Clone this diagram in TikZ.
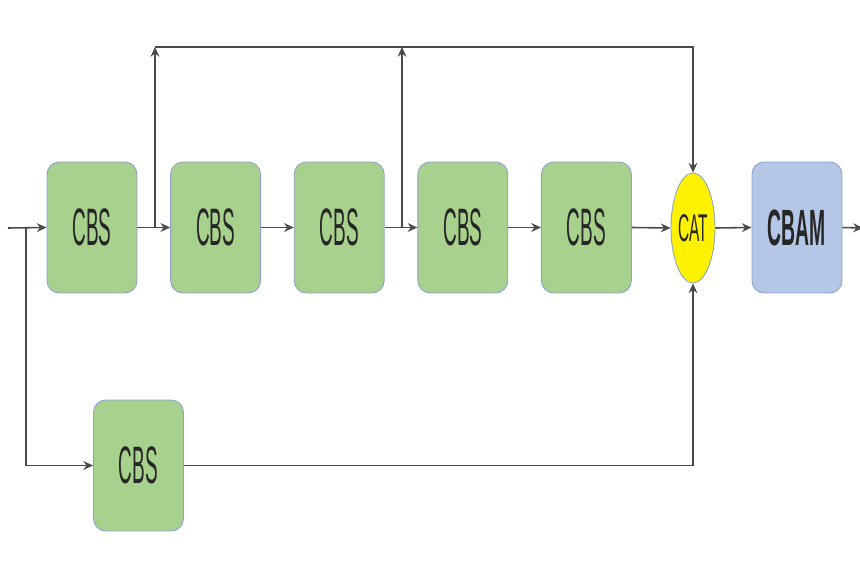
\documentclass[tikz,border=0pt]{standalone}
\usepackage{fontspec}
\setmainfont{Liberation Sans}
\usepackage{graphicx}
\usetikzlibrary{arrows.meta, shapes.geometric, positioning}
\definecolor{cbsGreen}{HTML}{A9D18E}
\definecolor{cbamBlue}{HTML}{B4C7E7}
\definecolor{boxEdge}{HTML}{8EA2C8}
\definecolor{lineGray}{HTML}{4A4A4A}
\newcommand{\narrowtxt}[2]{\scalebox{#1}[1]{#2}}

\begin{document}
\begin{tikzpicture}[x=0.02cm, y=-0.02cm, node distance=0.655cm,
  every node/.style={text=black!85},
  arr/.style={-{Stealth[length=5.5pt, width=5pt]}, line width=0.9pt, draw=lineGray},
  cbsbox/.style={draw=boxEdge, line width=0.5pt, fill=cbsGreen, rounded corners=7pt,
                 minimum width=1.8cm, minimum height=2.62cm, inner sep=0pt,
                 font=\fontsize{30}{32}\selectfont},
  cbambox/.style={cbsbox, fill=cbamBlue, font=\fontsize{29}{31}\selectfont\bfseries},
  catnode/.style={ellipse, draw=boxEdge, line width=0.5pt, fill=yellow,
                  minimum width=0.88cm, minimum height=2.2cm, inner sep=0pt,
                  font=\fontsize{22}{24}\selectfont}]

  \useasboundingbox[fill=white] (0,0) rectangle (860,571);

  %% main row
  \node[cbsbox] (cbsA) at (92,227.5) {\narrowtxt{0.36}{CBS}};
  \node[cbsbox, right=of cbsA] (cbsB) {\narrowtxt{0.36}{CBS}};
  \node[cbsbox, right=of cbsB] (cbsC) {\narrowtxt{0.36}{CBS}};
  \node[cbsbox, right=of cbsC] (cbsD) {\narrowtxt{0.36}{CBS}};
  \node[cbsbox, right=of cbsD] (cbsE) {\narrowtxt{0.36}{CBS}};
  \node[catnode] (cat) at (693,228) {\narrowtxt{0.4}{CAT}};
  \node[cbambox] (cbam) at (797,227.5) {\narrowtxt{0.38}{CBAM}};

  %% lower branch
  \node[cbsbox] (cbsL) at (138.5,465.5) {\narrowtxt{0.36}{CBS}};

  %% helper points
  \coordinate (in)   at (8,228);
  \coordinate (jin)  at (26,228);
  \coordinate (jA)   at (155,228);
  \coordinate (jC)   at (402,228);
  \coordinate (topA) at (155,47);
  \coordinate (topC) at (402,47);
  \coordinate (topE) at (693,47);
  \coordinate (out)  at (863,228);

  %% connectors
  \draw[arr] (in) -- (cbsA.west);
  \draw[arr] (jin) |- (cbsL.west);
  \draw[arr] (cbsA.east) -- (cbsB.west);
  \draw[arr] (cbsB) -- (cbsC);
  \draw[arr] (cbsC.east) -- (cbsD.west);
  \draw[arr] (cbsD) -- (cbsE);
  \draw[arr] (cbsE.east) -- (cat.west);
  \draw[arr] (cat.east) -- (cbam.west);
  \draw[arr] (cbam.east) -- (out);

  \draw[arr] (jA) -- (topA);
  \draw[arr] (jC) -- (topC);
  \draw[arr] (topA) -- (topE) -- (cat.north);
  \draw[arr] (cbsL.east) -| (cat.south);

\end{tikzpicture}
\end{document}
